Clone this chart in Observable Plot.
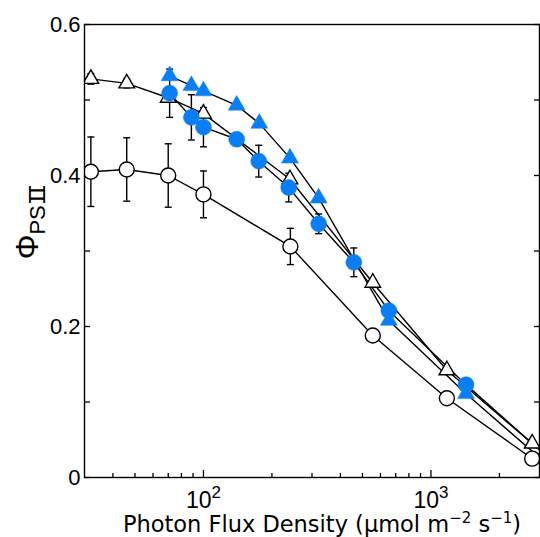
<!DOCTYPE html>
<html>
<head>
<meta charset="utf-8">
<script src="https://cdn.jsdelivr.net/npm/d3@7"></script>
<script src="https://cdn.jsdelivr.net/npm/@observablehq/plot@0.6"></script>
<style>
  html, body { margin: 0; padding: 0; background: #fff; }
  svg { display: block; }
</style>
</head>
<body>
<div id="chart"></div>
<script>
// ---- data ----
const openTriX = [32, 46, 70, 100, 240, 555, 1175, 2786];
const openTriY = [0.528, 0.522, 0.503, 0.482, 0.395, 0.258, 0.142, 0.045];
const openTriE = [0.007, 0.006, 0, 0, 0, 0, 0, 0];

const openCirX = [32, 46, 70, 100, 241, 555, 1175, 2786];
const openCirY = [0.405, 0.408, 0.400, 0.375, 0.306, 0.188, 0.105, 0.025];
const openCirE = [0.046, 0.042, 0.042, 0.031, 0.024, 0, 0, 0];

const blueCirX = [71, 88.5, 100, 140, 175, 237, 321, 458, 653, 1426, 3400];
const blueCirY = [0.509, 0.477, 0.464, 0.448, 0.419, 0.384, 0.336, 0.285, 0.221, 0.123, 0.022];
const blueCirE = [0.032, 0.030, 0.026, 0, 0.021, 0.019, 0.013, 0.019, 0, 0, 0];

const blueTriX = [71, 88.5, 100, 140, 176, 240, 321, 653, 1426, 3400];
const blueTriY = [0.532, 0.519, 0.512, 0.493, 0.469, 0.423, 0.370, 0.208, 0.111, 0.012];

const yMajorTicks = [0, 0.2, 0.4, 0.6];
const yAllTicks = [0, 0.1, 0.2, 0.3, 0.4, 0.5, 0.6];
const xMajorTicks = [100, 1000];
const xMinorTicks = [40, 50, 60, 70, 80, 90, 200, 300, 400, 500, 600, 700, 800, 900, 2000];
const xTickBase = {100: "10", 1000: "10"};
const xTickExp = {100: "2", 1000: "3"};

// ---- build tables ----
const mk = (xs, ys, es) => xs.map((x, i) => ({x, y: ys[i], e: es ? es[i] : 0}));
const openTri = mk(openTriX, openTriY, openTriE);
const openCir = mk(openCirX, openCirY, openCirE);
const blueCir = mk(blueCirX, blueCirY, blueCirE);
const blueTri = mk(blueTriX, blueTriY);
const errs = [...openTri, ...openCir, ...blueCir].filter(d => d.e > 0);

const BLUE = "#0a7ff5";
const FONT = "Liberation Sans, Arial, sans-serif";
const cap = { draw(ctx) { ctx.moveTo(-3.5, 0); ctx.lineTo(3.5, 0); } };
const lineOpts = {x: "x", y: "y", stroke: "black", strokeWidth: 1.4, clip: true};

const svg = Plot.plot({
  width: 540,
  height: 537,
  marginLeft: 84,
  marginRight: 1,
  marginTop: 24,
  marginBottom: 60,
  style: {fontFamily: FONT, background: "white", color: "black"},
  x: {type: "log", domain: [30, 3000]},
  y: {domain: [0, 0.6]},
  marks: [
    // inward ticks
    Plot.axisY({ticks: yAllTicks, anchor: "left", tickSize: -6, tickFormat: () => "", label: null, strokeWidth: 1.3}),
    Plot.axisY({ticks: yAllTicks, anchor: "right", tickSize: -6, tickFormat: () => "", label: null, strokeWidth: 1.3}),
    Plot.axisX({ticks: xMinorTicks, anchor: "bottom", tickSize: -4, tickFormat: () => "", label: null, strokeWidth: 1.3}),
    Plot.axisX({ticks: xMajorTicks, anchor: "bottom", tickSize: -7, tickFormat: () => "", label: null, strokeWidth: 1.3}),
    // labels
    Plot.axisY({ticks: yMajorTicks, anchor: "left", tickSize: 0, tickPadding: 4,
      tickFormat: d => d === 0 ? "0" : d.toFixed(1), label: null, fontSize: 22}),
    Plot.axisX({ticks: xMajorTicks, anchor: "bottom", tickSize: 0, tickPadding: 14,
      tickFormat: d => xTickBase[d] + xTickExp[d], label: null, fontSize: 23}),
    // lines
    Plot.line(openCir, lineOpts),
    Plot.line(openTri, lineOpts),
    Plot.line(blueTri, lineOpts),
    Plot.line(blueCir, lineOpts),
    // error bars
    Plot.ruleX(errs, {x: "x", y1: d => d.y - d.e, y2: d => d.y + d.e, stroke: "black", strokeWidth: 1.4}),
    Plot.dot(errs, {x: "x", y: d => d.y - d.e, symbol: cap, stroke: "black", strokeWidth: 1.4}),
    Plot.dot(errs, {x: "x", y: d => d.y + d.e, symbol: cap, stroke: "black", strokeWidth: 1.4}),
    // markers
    Plot.dot(openCir, {x: "x", y: "y", r: 7.5, fill: "white", stroke: "black", strokeWidth: 1.4, clip: true}),
    Plot.dot(openTri, {x: "x", y: "y", r: 5.8, symbol: "triangle", fill: "white", stroke: "black", strokeWidth: 1.4, clip: true}),
    Plot.dot(blueTri, {x: "x", y: "y", r: 6.3, symbol: "triangle", fill: BLUE, stroke: BLUE, strokeWidth: 0.5, clip: true}),
    Plot.dot(blueCir, {x: "x", y: "y", r: 8, fill: BLUE, stroke: BLUE, strokeWidth: 0.5, clip: true}),
    Plot.frame({stroke: "black", strokeWidth: 1.4})
  ]
});

const s = d3.select(svg);

// turn "102" / "103" tick labels into 10 with a raised exponent
const expLabels = new Set(xMajorTicks.map(d => xTickBase[d] + xTickExp[d]));
s.selectAll("text").filter(function() { return expLabels.has(this.textContent); }).each(function() {
  const t = d3.select(this);
  const txt = this.textContent;
  const base = txt.slice(0, 2), exp = txt.slice(2);
  t.text(null);
  t.append("tspan").text(base);
  t.append("tspan").attr("font-size", 17).attr("dy", "-0.55em").text(exp);
});

// y axis title Φ_PSII
const yt = s.append("text")
  .attr("transform", "translate(38,224) rotate(-90)")
  .attr("text-anchor", "middle")
  .attr("fill", "black")
  .attr("font-family", FONT);
yt.append("tspan").attr("font-size", 31).text("Φ");
yt.append("tspan").attr("font-size", 22).attr("dy", 7).text("PS");
yt.append("tspan").attr("font-size", 22).attr("font-family", "DejaVu Sans Mono, monospace").attr("letter-spacing", -5).text("II");

// x axis title
const xt = s.append("text")
  .attr("x", 322).attr("y", 532)
  .attr("text-anchor", "middle")
  .attr("fill", "black")
  .attr("font-family", "DejaVu Sans, sans-serif")
  .attr("font-size", 22.5);
xt.append("tspan").text("Photon Flux Density (μmol m");
xt.append("tspan").attr("font-size", 15).attr("dy", -9).text("−2");
xt.append("tspan").attr("dy", 9).text(" s");
xt.append("tspan").attr("font-size", 15).attr("dy", -9).text("−1");
xt.append("tspan").attr("dy", 9).text(")");

document.getElementById("chart").appendChild(svg);
</script>
</body>
</html>
